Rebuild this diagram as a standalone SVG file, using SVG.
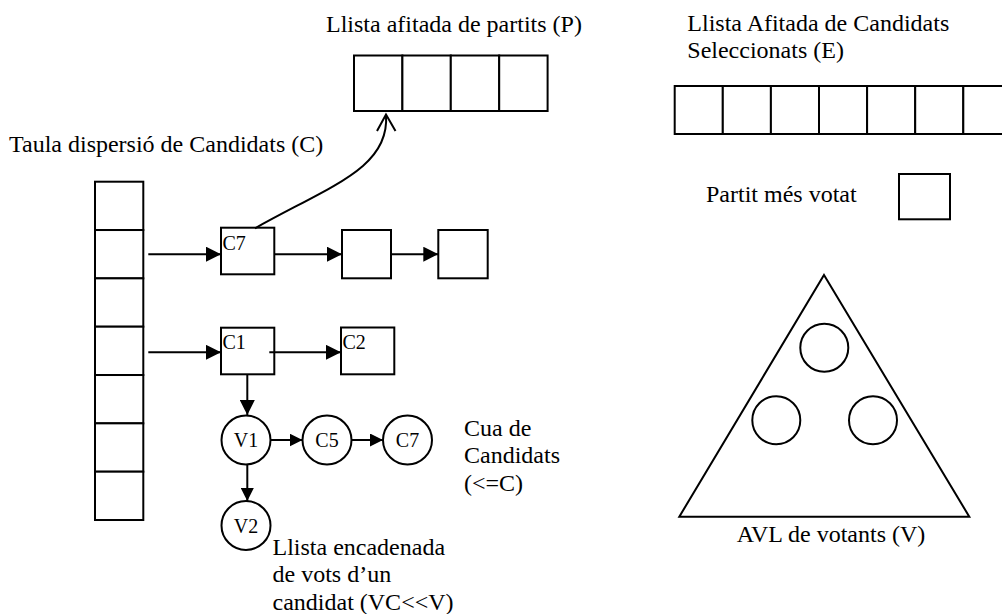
<svg xmlns="http://www.w3.org/2000/svg" width="1002" height="614" viewBox="0 0 1002 614">
<style>
  .box{fill:#fff;stroke:#000;stroke-width:2}
  .ln{fill:none;stroke:#000;stroke-width:2}
  .t{font-family:"Liberation Serif","Times New Roman",serif;font-size:24px;fill:#000}
  .s{font-family:"Liberation Serif","Times New Roman",serif;font-size:20px;fill:#000}
  .m{font-family:"Liberation Serif","Times New Roman",serif;font-size:20px;fill:#000;text-anchor:middle}
</style>
<defs>
  <marker id="ah" markerUnits="userSpaceOnUse" markerWidth="15" markerHeight="15" viewBox="0 0 15 15" refX="15" refY="7.5" orient="auto">
    <path d="M0,0 L15,7.5 L0,15 Z" fill="#000"/>
  </marker>
  <marker id="ahs" markerUnits="userSpaceOnUse" markerWidth="13" markerHeight="13" viewBox="0 0 13 13" refX="13" refY="6.5" orient="auto">
    <path d="M0,0 L13,6.5 L0,13 Z" fill="#000"/>
  </marker>
</defs>
<rect width="1002" height="614" fill="#fff"/>

<g id="label-P"><text class="t" x="326" y="31.7">Llista afitada de partits (P)</text></g>
<g id="list-P">
  <rect class="box" x="354" y="55.5" width="48.4" height="55.5"/>
  <rect class="box" x="402.4" y="55.5" width="48.4" height="55.5"/>
  <rect class="box" x="450.8" y="55.5" width="48.4" height="55.5"/>
  <rect class="box" x="499.2" y="55.5" width="48.4" height="55.5"/>
</g>

<g id="label-C"><text class="t" x="9" y="151.7">Taula dispersió de Candidats (C)</text></g>
<g id="hash-C">
  <rect class="box" x="95" y="181.7" width="48.3" height="48.33"/>
  <rect class="box" x="95" y="230.03" width="48.3" height="48.33"/>
  <rect class="box" x="95" y="278.36" width="48.3" height="48.33"/>
  <rect class="box" x="95" y="326.69" width="48.3" height="48.33"/>
  <rect class="box" x="95" y="375.02" width="48.3" height="48.33"/>
  <rect class="box" x="95" y="423.35" width="48.3" height="48.33"/>
  <rect class="box" x="95" y="471.68" width="48.3" height="48.33"/>
</g>

<g id="node-C7"><rect class="box" x="221" y="227.7" width="53.3" height="46.6"/><text class="s" x="222.5" y="250">C7</text></g>
<g id="node-B2"><rect class="box" x="342" y="230" width="49" height="48.3"/></g>
<g id="node-B3"><rect class="box" x="438.3" y="230" width="49.4" height="48.3"/></g>
<g id="node-C1"><rect class="box" x="221" y="327.7" width="53.3" height="46.6"/><text class="s" x="222.5" y="349">C1</text></g>
<g id="node-C2"><rect class="box" x="341" y="327.5" width="53.3" height="46.8"/><text class="s" x="342.5" y="348.5">C2</text></g>

<g id="node-V1"><circle class="box" cx="246" cy="440" r="24.5"/><text class="m" x="246" y="447">V1</text></g>
<g id="node-C5c"><circle class="box" cx="327" cy="440" r="24.5"/><text class="m" x="327" y="447">C5</text></g>
<g id="node-C7c"><circle class="box" cx="407.5" cy="440" r="24.5"/><text class="m" x="407.5" y="447">C7</text></g>
<g id="node-V2"><circle class="box" cx="246" cy="525.5" r="24.5"/><text class="m" x="246" y="532.5">V2</text></g>

<g id="label-cua">
  <text class="t" x="464" y="435.7">Cua de</text>
  <text class="t" x="464" y="463.3">Candidats</text>
  <text class="t" x="464" y="490.9">(&lt;=C)</text>
</g>
<g id="label-llista">
  <text class="t" x="272.5" y="555">Llista encadenada</text>
  <text class="t" x="272.5" y="582.3">de vots d’un</text>
  <text class="t" x="272.5" y="609.5">candidat (VC&lt;&lt;V)</text>
</g>

<g id="label-E">
  <text class="t" x="687.3" y="30.7">Llista Afitada de Candidats</text>
  <text class="t" x="687.3" y="58.3">Seleccionats (E)</text>
</g>
<g id="list-E">
  <rect class="box" x="674.7" y="86" width="48.1" height="48"/>
  <rect class="box" x="722.8" y="86" width="48.1" height="48"/>
  <rect class="box" x="770.9" y="86" width="48.1" height="48"/>
  <rect class="box" x="819" y="86" width="48.1" height="48"/>
  <rect class="box" x="867.1" y="86" width="48.1" height="48"/>
  <rect class="box" x="915.2" y="86" width="48.1" height="48"/>
  <rect class="box" x="963.3" y="86" width="48.1" height="48"/>
</g>

<g id="partit-mes-votat">
  <text class="t" x="706" y="201.7">Partit més votat</text>
  <rect class="box" x="899" y="174" width="51" height="45.3"/>
</g>

<g id="avl-V">
  <polygon class="ln" points="824,275 969.3,516.7 679.3,516.7"/>
  <circle class="ln" cx="824.3" cy="347.7" r="24"/>
  <circle class="ln" cx="776.3" cy="420.3" r="24"/>
  <circle class="ln" cx="873" cy="420.3" r="24"/>
  <text class="t" x="736.7" y="541.7">AVL de votants (V)</text>
</g>

<g id="connectors">
  <line class="ln" x1="148.3" y1="254.2" x2="221" y2="254.2" marker-end="url(#ah)"/>
  <line class="ln" x1="274.3" y1="254.2" x2="342" y2="254.2" marker-end="url(#ah)"/>
  <line class="ln" x1="391" y1="254.2" x2="438.3" y2="254.2" marker-end="url(#ah)"/>
  <line class="ln" x1="148.3" y1="352.3" x2="221" y2="352.3" marker-end="url(#ah)"/>
  <line class="ln" x1="269.3" y1="352.3" x2="341" y2="352.3" marker-end="url(#ah)"/>
  <line class="ln" x1="247.3" y1="374.3" x2="247.3" y2="415" marker-end="url(#ah)"/>
  <line class="ln" x1="270.5" y1="440" x2="302.5" y2="440" marker-end="url(#ahs)"/>
  <line class="ln" x1="351.5" y1="440" x2="383" y2="440" marker-end="url(#ahs)"/>
  <line class="ln" x1="247.3" y1="464.5" x2="247.3" y2="501" marker-end="url(#ahs)"/>
  <path class="ln" d="M255,228.3 C330,186 390,168 386,115"/>
  <polyline class="ln" points="377,131 386,114.5 395.5,131"/>
</g>
</svg>
